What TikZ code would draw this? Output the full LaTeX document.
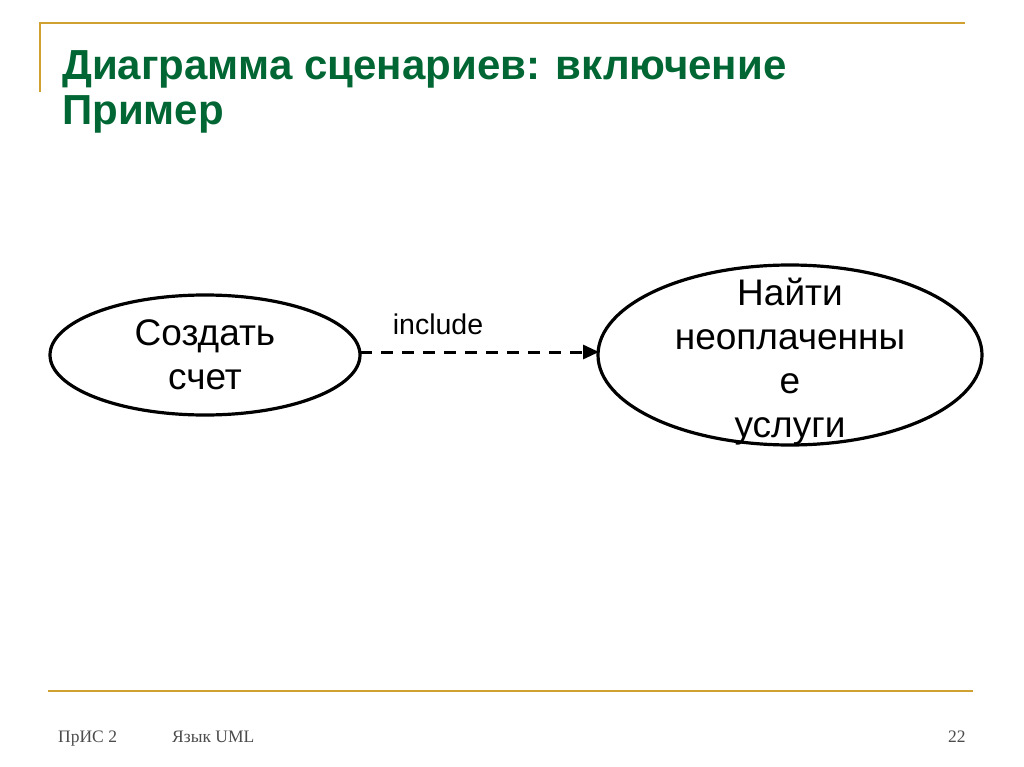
\documentclass[tikz,border=0pt]{standalone}
\usepackage{fontspec}
\setmainfont{Liberation Sans}
\newfontfamily\footfont{Liberation Serif}
\usetikzlibrary{arrows.meta}
\definecolor{titlegreen}{HTML}{006633}
\definecolor{gold}{HTML}{D0A030}
\begin{document}
\begin{tikzpicture}[x=1pt,y=-1pt,
  uctext/.style={font=\fontsize{37}{44}\selectfont, align=center, anchor=base, inner sep=0pt},
  foot/.style={font=\footfont\fontsize{17.5}{20}\selectfont, text=black!70, anchor=base west, inner sep=0pt}]
\useasboundingbox (0,0) rectangle (1024,767);
\fill[white] (0,0) rectangle (1024,767);
% decorative lines
\draw[gold, line width=2.2pt] (40,23) -- (965,23);
\draw[gold, line width=2.2pt] (40,22) -- (40,92);
\draw[gold, line width=2.8pt] (48,691) -- (973,691);
% title
\node[anchor=base west, inner sep=0pt, text=titlegreen, align=left,
  font=\bfseries\fontsize{42}{45}\selectfont] (title) at (62,125)
  {Диаграмма сценариев: включение\\Пример};
% use cases
\draw[line width=3.2pt] (205,355) ellipse [x radius=155, y radius=60];
\draw[line width=3.2pt] (790,355) ellipse [x radius=192, y radius=90];
\coordinate (ucA) at (360,352);
\coordinate (ucB) at (599,352);
\node[uctext] (a) at (205,389) {Создать\\счет};
\node[uctext] (b) at (790,437) {Найти\\неоплаченны\\е\\услуги};
\draw[line width=3pt, dash pattern=on 12pt off 9pt, -{Triangle[length=16pt,width=14pt]}] (ucA) -- (ucB);
\node[anchor=base, inner sep=0pt, font=\fontsize{28.5}{30}\selectfont] (lbl) at (438,334) {include};
% footer
\node[foot] (f1) at (58,742) {ПрИС 2};
\node[foot] (f2) at (172,742) {Язык UML};
\node[foot] (f3) at (948,742) {22};
\end{tikzpicture}
\end{document}
